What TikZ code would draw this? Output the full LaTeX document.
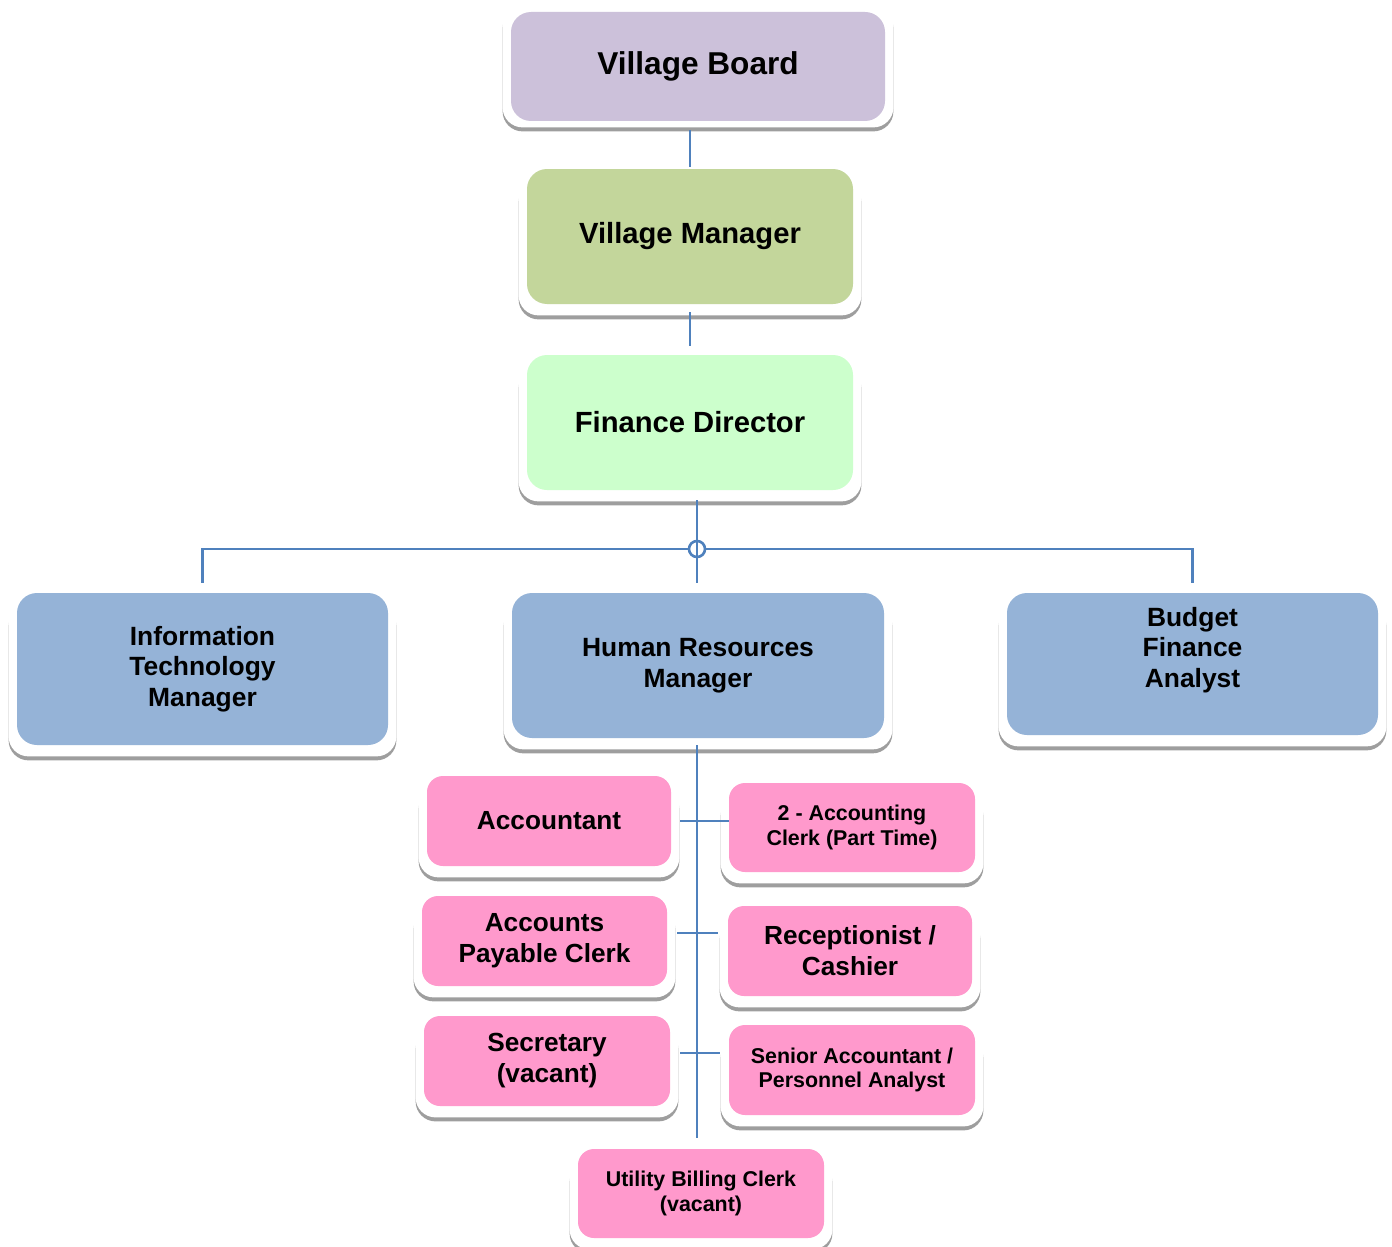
\documentclass[tikz,border=0pt]{standalone}
\usepackage{fontspec}
\setmainfont{Liberation Sans}
\definecolor{vpurple}{HTML}{CCC1DA}
\definecolor{vgreen}{HTML}{C3D69B}
\definecolor{mint}{HTML}{CCFFCC}
\definecolor{steel}{HTML}{95B3D7}
\definecolor{rose}{HTML}{FF99CC}
\definecolor{wire}{HTML}{4F81BD}
\usetikzlibrary{positioning,calc,backgrounds,shadows}

\begin{document}
\begin{tikzpicture}[x=0.5pt,y=-0.5pt,
      every node/.style={align=center,inner sep=0pt,font=\bfseries},
      top/.style={rounded corners=10pt,minimum width=163pt,minimum height=67.5pt,font=\fontsize{14.6}{18}\selectfont\bfseries},
      dept/.style={rounded corners=10pt,fill=steel,minimum width=185.5pt,minimum height=72pt,font=\fontsize{13.2}{15.3}\selectfont\bfseries},
      staff/.style={rounded corners=8pt,fill=rose,minimum width=122.5pt,minimum height=45pt,font=\fontsize{13.1}{15.5}\selectfont\bfseries},
      tiny/.style={font=\fontsize{10.7}{12.2}\selectfont\bfseries},
      plate/.style={fill=white,rounded corners=10pt,drop shadow={shadow xshift=0pt,shadow yshift=-2pt,fill=black!38,opacity=1}},
      link/.style={draw=wire,line width=1.3pt}]
    \useasboundingbox (0,0) rectangle (1392,1247);
    \node[top,fill=vpurple,minimum width=187pt,minimum height=54.5pt,font=\fontsize{15.8}{19}\selectfont\bfseries] (vb) at (698,66.5) {Village Board};
    \node[top,fill=vgreen] (vm) at (690,236.5) {Village Manager};
    \node[top,fill=mint] (fd) at (690,422.5) {Finance Director};
    \node[dept,minimum height=76pt] (it) at (202.5,669) {Information\\Technology\\Manager};
    \node[dept,minimum width=186pt,minimum height=72.5pt] (hr) at (698,665.5) {Human Resources\\Manager};
    \node[dept,minimum height=71pt,label={[yshift=7pt,font=\fontsize{13.2}{15.3}\selectfont\bfseries]center:Budget\\Finance\\Analyst}] (bfa) at (1192.5,664) {};
    \node[staff,minimum width=122pt] (acc) at (549,821) {Accountant};
    \node[staff,tiny,minimum width=123pt,minimum height=44.5pt] (acl) at (852,827.5) {2 - Accounting\\Clerk (Part Time)};
    \node[staff] (apc) at (544.5,941) {Accounts\\Payable Clerk};
    \node[staff,minimum width=122pt] (rc) at (850,951) {Receptionist /\\Cashier};
    \node[staff,minimum width=123pt] (sec) at (547,1061) {Secretary\\(vacant)};
    \node[staff,tiny,minimum width=123pt] (sa) at (852,1070) {Senior Accountant /\\Personnel Analyst};
    \node[staff,tiny,minimum width=123pt,minimum height=44.5pt] (ubc) at (701,1193.5) {Utility Billing Clerk\\(vacant)};
    % white base plates behind the boxes
    \begin{scope}[on background layer]
      \path[plate] ([shift={(-8,-7)}]vb.north west) rectangle ([shift={(8,6)}]vb.south east);
      \foreach \n in {vm,fd,it,hr,bfa,acc,acl,apc,rc,sec,sa,ubc}
        \path[plate] ([shift={(-8,10)}]\n.north west) rectangle ([shift={(8,11)}]\n.south east);
    \end{scope}
    \coordinate (bus) at (697,549);
    \draw[link] ([yshift=-4.5pt]vb.south -| vm.north) -- ([yshift=1pt]vm.north);
    \draw[link] ([yshift=-4pt]vm.south) -- ([yshift=4.5pt]fd.north);
    \draw[link] ([yshift=5pt]it.north) |- (bus) -| ([yshift=5pt]bfa.north);
    \draw[link,fill=white] (bus) circle[radius=4pt];
    \draw[link] ([yshift=-5pt]fd.south -| bus) -- ([yshift=5pt]hr.north -| bus);
    \draw[link] ([yshift=-3.5pt]hr.south -| bus) -- ([yshift=5.5pt]ubc.north -| bus);
    \draw[link] ([xshift=4.5pt]acc.east) -- (acc.east -| acl.west) ++(-9,0);
    \draw[link] ([shift={(10,-8)}]apc.east) -- ([shift={(-10,-8)}]apc.east -| rc.west);
    \draw[link] ([shift={(10,-8)}]sec.east) -- ([shift={(-9,-8)}]sec.east -| sa.west);
  \end{tikzpicture}
\end{document}
